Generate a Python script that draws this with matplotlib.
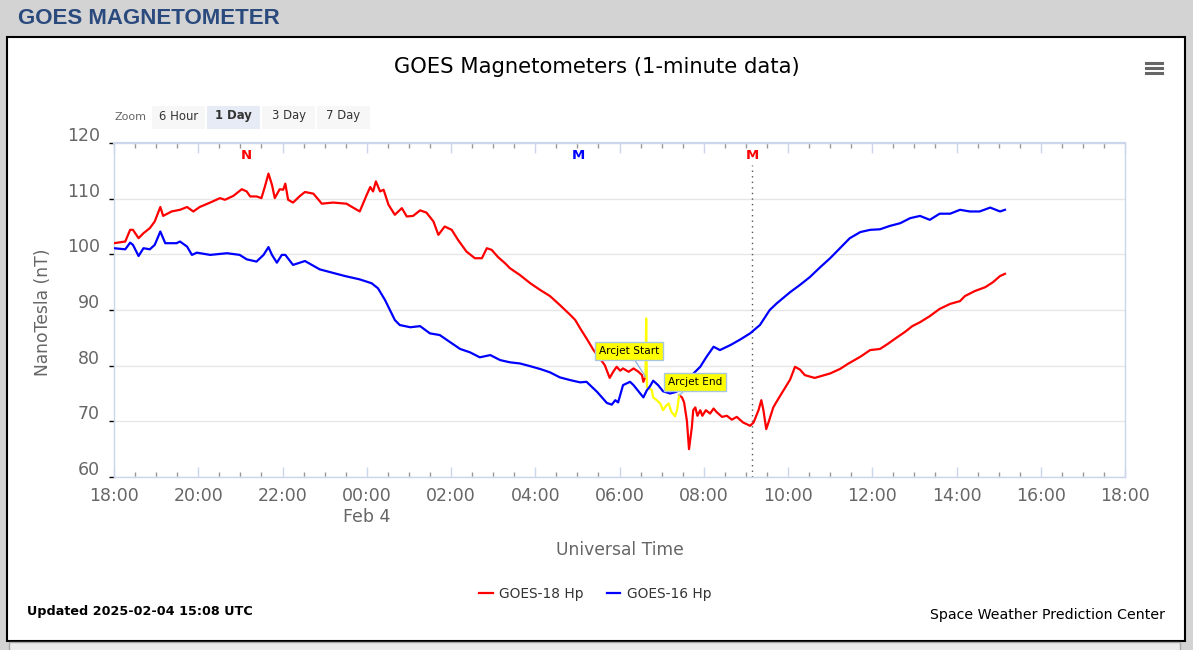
import numpy as np
import pandas as pd
import matplotlib
matplotlib.use("Agg")
import matplotlib.pyplot as plt
import matplotlib.dates as mdates
from matplotlib.patches import Rectangle
from matplotlib.lines import Line2D
from matplotlib.transforms import ScaledTranslation, blended_transform_factory

# GOES-18 Hp, minutes after 2025-02-03 18:00 UTC and nT
g18_min = [0, 16, 23, 27, 35, 42, 51, 58, 66, 70, 82, 94, 104, 113, 122, 137,
           151, 158, 170, 182, 189, 194, 203, 210, 215, 220, 225, 229, 236,
           241, 244, 248, 255, 265, 272, 284, 296, 312, 331, 350, 360, 365,
           369, 373, 379, 384, 391, 400, 410, 417, 426, 436, 445, 455, 462,
           471, 481, 490, 502, 514, 524, 531, 538, 547, 557, 564, 578, 593,
           607, 621, 635, 650, 657, 664, 673, 683, 692, 699, 706, 711, 716,
           721, 725, 733, 740, 747, 752, 754, 757,
           758, 759, 766, 768, 773, 778, 782, 787, 790, 794, 799, 802, 804,
           805, 809, 812, 816, 819, 823, 825, 828, 831, 835, 838, 843, 849,
           854, 858, 866, 873, 880, 887, 896, 906, 911, 918, 922, 925, 929,
           933, 939, 946, 963, 970, 977, 984, 998, 1020, 1034, 1045, 1063,
           1077, 1091, 1102, 1112, 1127, 1137, 1148, 1162, 1176, 1191, 1205,
           1212, 1226, 1241, 1252, 1262, 1269]
g18_nt = [102.0, 102.3, 104.4, 104.4, 102.9, 103.8, 104.7, 105.9, 108.5,
          106.9, 107.7, 108.0, 108.5, 107.7, 108.5, 109.3, 110.1, 109.8, 110.5,
          111.7, 111.3, 110.4, 110.4, 110.1, 112.2, 114.5, 112.5, 110.1, 111.7,
          111.6, 112.7, 109.8, 109.3, 110.5, 111.2, 110.9, 109.1, 109.3, 109.1,
          107.7, 110.7, 112.1, 111.3, 113.1, 111.3, 111.6, 108.9, 107.1, 108.3,
          106.8, 106.9, 107.9, 107.5, 105.9, 103.5, 105.0, 104.4, 102.6, 100.5,
          99.3, 99.3, 101.1, 100.8, 99.5, 98.4, 97.5, 96.3, 94.8, 93.6, 92.5,
          90.9, 89.1, 88.2, 86.7, 84.9, 82.8, 81.3, 80.1, 77.8, 78.9, 79.8,
          79.1, 79.5, 78.9, 79.5, 78.9, 78.3, 77.1, 78.0,
          88.5, 76.2, 75.6, 74.3, 73.8, 73.2, 72.0, 72.9, 73.2, 71.7, 70.9,
          72.0, 73.8,
          74.7, 74.3, 73.4, 70.1, 65.0, 68.9, 72.0, 72.5, 71.0, 72.0, 71.0,
          72.0, 71.4, 72.3, 71.7, 70.8, 71.0, 70.3, 70.8, 69.8, 69.2, 69.8,
          72.0, 73.8, 72.0, 68.6, 70.1, 72.5, 74.0, 77.5, 79.8, 79.3, 78.3,
          77.8, 78.6, 79.4, 80.3, 81.6, 82.8, 83.0, 83.9, 84.8, 86.1, 87.1,
          87.8, 88.9, 90.2, 91.1, 91.6, 92.5, 93.4, 94.1, 95.0, 96.1, 96.5]

# GOES-16 Hp
g16_min = [0, 16, 23, 27, 35, 42, 51, 58, 66, 73, 89, 94, 104, 111, 118, 137,
           161, 179, 189, 203, 213, 220, 225, 232, 239, 244, 255, 272, 293,
           308, 329, 350, 367, 376, 386, 400, 407, 422, 436, 450, 464, 479,
           493, 507, 521, 536, 550, 564, 578, 593, 607, 621, 635, 650, 664,
           673, 688, 702, 709, 714, 718, 723, 725, 735, 740, 747, 754, 759,
           763, 768, 775, 782, 792, 801, 806, 813, 823, 835, 844, 854, 863,
           878, 892, 906, 920, 934, 944, 963, 977, 991, 1006, 1020, 1034,
           1048, 1063, 1077, 1091, 1105, 1120, 1134, 1148, 1162, 1176, 1191,
           1205, 1219, 1233, 1248, 1262, 1269]
g16_nt = [101.1, 100.9, 102.1, 101.7, 99.7, 101.1, 100.9, 101.7, 104.1,
          102.0, 102.0, 102.3, 101.4, 99.9, 100.3, 99.9, 100.2, 99.9, 99.1,
          98.7, 99.9, 101.3, 99.9, 98.5, 99.9, 99.9, 98.1, 98.8, 97.3, 96.8,
          96.1, 95.5, 94.8, 93.9, 91.8, 88.2, 87.3, 86.9, 87.1, 85.8, 85.5,
          84.2, 83.0, 82.4, 81.5, 81.9, 81.0, 80.6, 80.4, 79.9, 79.4, 78.8,
          77.9, 77.4, 77.0, 77.1, 75.3, 73.3, 73.0, 73.8, 73.4, 75.6, 76.5,
          77.1, 76.5, 75.4, 74.3, 75.6, 76.2, 77.3, 76.5, 75.4, 75.0, 75.3,
          75.9, 76.8, 78.3, 79.8, 81.6, 83.4, 82.8, 83.7, 84.7, 85.8, 87.3,
          90.0, 91.2, 93.2, 94.5, 95.9, 97.7, 99.3, 101.1, 102.9, 104.0,
          104.4, 104.5, 105.1, 105.6, 106.5, 106.9, 106.2, 107.3, 107.3,
          108.0, 107.7, 107.7, 108.4, 107.7, 108.0]

arcjet_start = 757
arcjet_end = 805

event_min = [188, 661, 909]
event_txt = ["N", "M", "M"]
event_col = ["#ff0000", "#0000ff", "#ff0000"]

y_ticks = [60, 70, 80, 90, 100, 110, 120]
zoom_buttons = ["6 Hour", "1 Day", "3 Day", "7 Day"]
series_labels = ["GOES-18 Hp", "GOES-16 Hp"]

W, H = 1193, 650


def fx(x):
    return x / W


def fy(y):
    return 1 - y / H


base = pd.Timestamp("2025-02-03 18:00")
t18 = (base + pd.to_timedelta(g18_min, unit="min")).to_numpy()
t16 = (base + pd.to_timedelta(g16_min, unit="min")).to_numpy()
m18 = np.array(g18_min)
v18 = np.array(g18_nt)
in_arc = (m18 >= arcjet_start) & (m18 <= arcjet_end)
red = np.where((m18 <= arcjet_start) | (m18 >= arcjet_end), v18, np.nan)
yel = np.where(in_arc, v18, np.nan)

fig = plt.figure(figsize=(W / 100, H / 100), dpi=100)
fig.patch.set_facecolor("#d3d3d3")

# white panel with dark border
fig.add_artist(Rectangle((fx(7), fy(641)), (1185 - 7) / W, (641 - 37) / H,
                         transform=fig.transFigure, facecolor="white",
                         edgecolor="black", lw=1.5, zorder=0))
fig.add_artist(Rectangle((fx(9), fy(652)), (1180 - 9) / W, (652 - 642) / H,
                         transform=fig.transFigure, facecolor="#ebebeb",
                         edgecolor="#a8a8a8", lw=1, zorder=0))

fig.text(fx(18), fy(18), "GOES MAGNETOMETER", fontsize=16,
         fontweight="bold", family="Liberation Sans", color="#2a4a7e",
         ha="left", va="center")

fig.text(fx(597), fy(67), "GOES Magnetometers (1-minute data)",
         fontsize=15.2, color="#000000", ha="center", va="center")

# menu icon
for yy in [63, 68, 73]:
    fig.add_artist(Line2D([fx(1146), fx(1162)], [fy(yy), fy(yy)],
                          transform=fig.transFigure, color="#666666", lw=2.2))

# zoom buttons
fig.text(fx(115), fy(117), "Zoom", fontsize=8, color="#666666",
         ha="left", va="center")
for i, lab in enumerate(zoom_buttons):
    x0 = 152 + i * 55
    sel = lab == "1 Day"
    fig.add_artist(Rectangle((fx(x0), fy(129)), 53 / W, 23 / H,
                             transform=fig.transFigure,
                             facecolor="#e6ebf5" if sel else "#f7f7f7",
                             edgecolor="none", zorder=1))
    fig.text(fx(x0 + 26.5), fy(116), lab, fontsize=8.4, color="#333333",
             fontweight="bold" if sel else "normal", ha="center", va="center")

ax = fig.add_axes([fx(114), fy(477), (1125 - 114) / W, (477 - 143) / H])
ax.set_facecolor("none")

l18, = ax.plot(t18, red, color="#ff0000", lw=1.6, zorder=3)
ax.plot(t18, yel, color="#ffff00", lw=1.6, zorder=3)
l16, = ax.plot(t16, g16_nt, color="#0000ff", lw=1.6, zorder=3)

ax.set_xlim(base, base + pd.Timedelta(hours=24))
ax.set_ylim(60, 120)
ax.set_yticks(y_ticks)
ax.yaxis.grid(True, color="#e6e6e6", lw=1)
ax.set_axisbelow(True)

ax.xaxis.set_major_locator(mdates.HourLocator(byhour=range(0, 24, 2)))
ax.xaxis.set_minor_locator(mdates.MinuteLocator(byminute=[0, 30]))


def fmt_time(x, pos=None):
    d = mdates.num2date(x)
    if d.hour == 0:
        return d.strftime("%H:%M") + "\nFeb 4"
    return d.strftime("%H:%M")


ax.xaxis.set_major_formatter(plt.FuncFormatter(fmt_time))
ax.tick_params(axis="x", which="major", direction="in", length=7.5,
               color="#ccd6eb", width=1, top=True, bottom=True, pad=7,
               labelsize=12.5, labelcolor="#666666")
ax.tick_params(axis="x", which="minor", direction="in", length=3.6,
               color="#999999", width=1, top=True, bottom=True)
ax.tick_params(axis="y", which="major", direction="out", length=3.6,
               color="black", width=1, pad=6.5, labelsize=12.5,
               labelcolor="#666666")
lift = ScaledTranslation(0, 0.09, fig.dpi_scale_trans)
for lbl in ax.get_yticklabels():
    lbl.set_transform(lbl.get_transform() + lift)

for s in ax.spines.values():
    s.set_color("#ccd6eb")
    s.set_linewidth(1)
ax.spines["top"].set_linewidth(1.6)

# event markers along the top
trans = blended_transform_factory(ax.transData, ax.transAxes)
for m, txt, col in zip(event_min, event_txt, event_col):
    t = base + pd.Timedelta(minutes=m)
    ax.text(t, 0.962, txt, transform=trans, color=col, fontsize=9.5,
            fontweight="bold", ha="center", va="center")
ax.axvline(base + pd.Timedelta(minutes=event_min[2]), ymin=0, ymax=0.935,
           color="#555555", ls=(0, (1, 3)), lw=1, zorder=2)

# arcjet annotations
i0 = int(np.argmax(m18 == arcjet_start))
i1 = int(np.argmax(m18 == arcjet_end))
for idx, txt, pos in [(i0, "Arcjet Start", (629, H - 351)),
                      (i1, "Arcjet End", (695, H - 382))]:
    ax.annotate(txt, xy=(t18[idx], v18[idx]), xytext=pos,
                textcoords="figure pixels", fontsize=7.6, color="black",
                ha="center", va="center", zorder=5,
                bbox=dict(boxstyle="square,pad=0.35", fc="#ffff00",
                          ec="#a9c6e0", lw=1),
                arrowprops=dict(arrowstyle="-", color="#8fb8e0", lw=1,
                                shrinkA=0, shrinkB=0))

fig.text(fx(43), fy(312), "NanoTesla (nT)", rotation=90, fontsize=12.3,
         color="#666666", ha="center", va="center")
fig.text(fx(620), fy(550), "Universal Time", fontsize=12.3,
         color="#666666", ha="center", va="center")

fig.legend([l18, l16], series_labels, loc="center",
           bbox_to_anchor=(fx(595), fy(594)), ncol=2, frameon=False,
           fontsize=9.9, handlelength=1.0, handletextpad=0.45,
           columnspacing=1.7, labelcolor="#333333")

fig.text(fx(27), fy(611), "Updated 2025-02-04 15:08 UTC", fontsize=9.2,
         fontweight="bold", color="black", ha="left", va="center")
fig.text(fx(1165), fy(615), "Space Weather Prediction Center", fontsize=10.2,
         color="black", ha="right", va="center")

fig.savefig("out.png", dpi=100)
